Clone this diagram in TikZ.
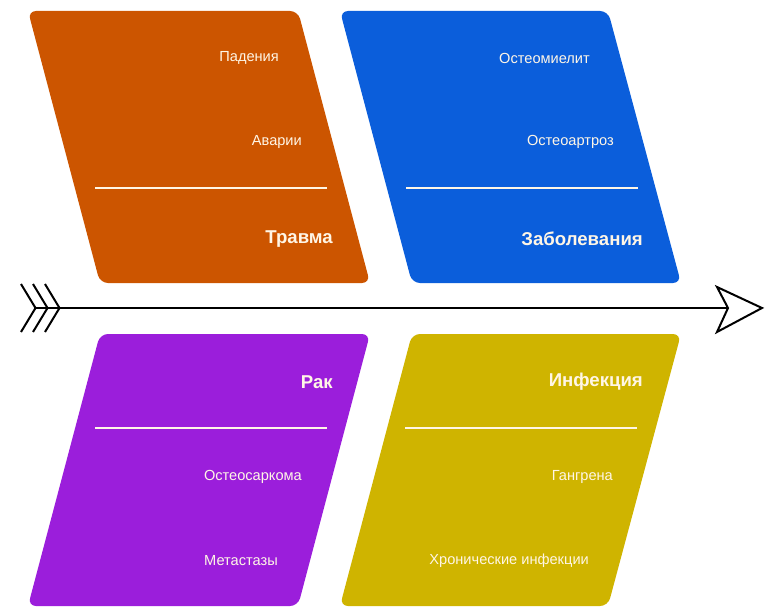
\documentclass[tikz,border=0pt]{standalone}
\usepackage{fontspec}
\setmainfont{Liberation Sans}
\definecolor{corange}{HTML}{CC5500}
\definecolor{cblue}{HTML}{0B5EDB}
\definecolor{cpurple}{HTML}{9B1EDB}
\definecolor{cyellow}{HTML}{CFB400}
\definecolor{ctext}{HTML}{FFF6E6}
\tikzset{
  card/.style={rounded corners=8pt},
  small/.style={anchor=east, text=ctext, font=\fontsize{14.6}{17}\selectfont, inner sep=0pt},
  head/.style={anchor=east, text=ctext, font=\bfseries\fontsize{18.6}{22}\selectfont, inner sep=0pt},
  sep/.style={draw=ctext, line width=1.5pt},
  spine/.style={line width=2pt, black},
}
\begin{document}
\begin{tikzpicture}[x=1pt,y=-1pt]
\useasboundingbox (0,0) rectangle (775,615);
% cards
\fill[corange, card] (28,11) -- (298,11) -- (370,283) -- (100,283) -- cycle;
\fill[cblue, card] (340,11) -- (608,11) -- (681,283) -- (412,283) -- cycle;
\fill[cpurple, card] (100,334) -- (370,334) -- (298,606) -- (28,606) -- cycle;
\fill[cyellow, card] (412,334) -- (681,334) -- (608,606) -- (340,606) -- cycle;
% separators
\coordinate (o1) at (95,188); \coordinate (o2) at (327,188);
\coordinate (b1) at (406,188); \coordinate (b2) at (638,188);
\coordinate (p1) at (95,428); \coordinate (p2) at (327,428);
\coordinate (y1) at (405,428); \coordinate (y2) at (637,428);
\draw[sep] (o1) -- (o2);
\draw[sep] (b1) -- (b2);
\draw[sep] (p1) -- (p2);
\draw[sep] (y1) -- (y2);
% texts
\node[small] (t1) at (279,58) {Падения};
\node[small] (t2) at (302,142) {Аварии};
\node[head] (t3) at (333,239) {Травма};
\node[small] (z1) at (590,58) {Остеомиелит};
\node[small] (z2) at (614,142) {Остеоартроз};
\node[head] (z3) at (643,239) {Заболевания};
\node[head] (r1) at (333,382) {Рак};
\node[small] (r2) at (302,477) {Остеосаркома};
\node[small] (r3) at (278,561) {Метастазы};
\node[head] (i1) at (643,382) {Инфекция};
\node[small] (i2) at (613,477) {Гангрена};
\node[small] (i3) at (589,561) {Хронические инфекции};
% spine
\coordinate (tail) at (36,308);
\coordinate (notch) at (728,308);
\coordinate (hu) at (717,287);
\coordinate (tip) at (762,308);
\coordinate (hd) at (717,332);
\draw[spine] (tail) -- (notch);
\draw[spine, fill=white, line join=miter] (notch) -- (hu) -- (tip) -- (hd) -- cycle;
\foreach \x in {21,33,45} {
  \draw[spine] (\x,284) -- (\x+14.5,308) -- (\x,332);
}
\end{tikzpicture}
\end{document}
